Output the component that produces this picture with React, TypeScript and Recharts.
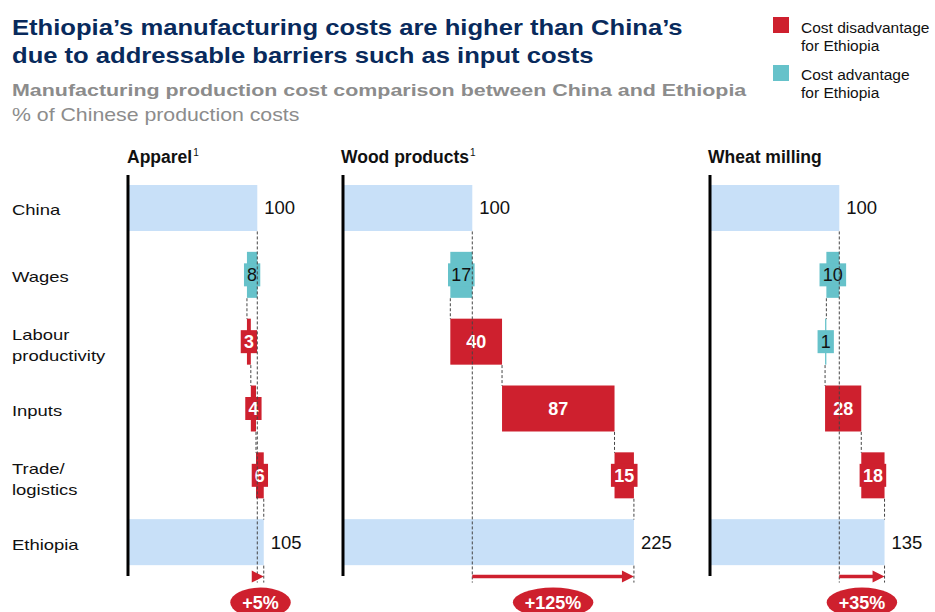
import { BarChart, Bar, XAxis, YAxis, ReferenceLine } from "recharts";

const categories = ["China", "Wages", "Labour\nproductivity", "Inputs", "Trade/\nlogistics", "Ethiopia"];
const panelTitles = ["Apparel", "Wood products", "Wheat milling"];
const panelNotes = ["1", "1", ""];
const chinaValues = [100, 100, 100];
const apparelSteps = [-8, 3, 4, 6];
const woodSteps = [-17, 40, 87, 15];
const wheatSteps = [-10, -1, 28, 18];
const ethiopiaValues = [105, 225, 135];
const legendLabels = ["Cost disadvantage\nfor Ethiopia", "Cost advantage\nfor Ethiopia"];

const RED = "#CE202E";
const CYAN = "#66C2CA";
const LIGHT = "#C8E0F8";
const NAVY = "#082A5C";
const GREY = "#8C8C8C";
const FONT = "'Liberation Sans', Arial, sans-serif";

const buildRows = (china: number, steps: number[], total: number) => {
  const rows: any[] = [{ name: categories[0], base: 0, len: china, kind: "total", value: china, after: china }];
  let run = china;
  steps.forEach((s, i) => {
    rows.push({
      name: categories[i + 1],
      base: s < 0 ? run + s : run,
      len: Math.abs(s),
      kind: s < 0 ? "down" : "up",
      value: Math.abs(s),
      after: run + s,
    });
    run += s;
  });
  rows.push({ name: categories[5], base: 0, len: total, kind: "total", value: total, after: total });
  return rows;
};

const panels = [
  { rows: buildRows(chinaValues[0], apparelSteps, ethiopiaValues[0]), left: 0, yWidth: 128, max: 150 },
  { rows: buildRows(chinaValues[1], woodSteps, ethiopiaValues[1]), left: 339, yWidth: 4, max: 260 },
  { rows: buildRows(chinaValues[2], wheatSteps, ethiopiaValues[2]), left: 706, yWidth: 4, max: 170 },
];
const PX_PER_UNIT = 1.293;

const BarShape = (p: any) => {
  const { x, y, width, height, payload } = p;
  const kind = payload.kind;
  const fill = kind === "total" ? LIGHT : kind === "up" ? RED : CYAN;
  const cx = x + width / 2;
  const cy = y + height / 2;
  const txt = String(payload.value);
  if (kind === "total") {
    return (
      <g>
        <rect x={x} y={y} width={width} height={height} fill={fill} />
        <text x={x + width + 7} y={cy + 6.5} fontSize={18.5} fill="#111" fontFamily={FONT}>
          {txt}
        </text>
      </g>
    );
  }
  const boxW = Math.max(width, txt.length * 10.3 + 6);
  return (
    <g>
      <rect x={x} y={y} width={width} height={height} fill={fill} />
      {boxW > width && <rect x={cx - boxW / 2} y={cy - 11.5} width={boxW} height={23} fill={fill} />}
      <text
        x={cx}
        y={cy + 6.5}
        textAnchor="middle"
        fontSize={18}
        fontFamily={FONT}
        fontWeight={kind === "up" ? "bold" : "normal"}
        fill={kind === "up" ? "#fff" : "#111"}
      >
        {txt}
      </text>
    </g>
  );
};

const CategoryTick = (p: any) => {
  const lines = String(p.payload.value).split("\n");
  const y0 = lines.length > 1 ? p.y - 2 : p.y + 7;
  return (
    <g>
      {lines.map((l, i) => (
        <text
          key={i}
          transform={`translate(12 ${y0 + i * 21}) scale(1.23 1)`}
          fontSize={15}
          fill="#111"
          fontFamily={FONT}
        >
          {l}
        </text>
      ))}
    </g>
  );
};

const dashed = (dy1: number, dy2: number) => (p: any) => (
  <line x1={p.x1} y1={p.y1 + dy1} x2={p.x2} y2={p.y2 + dy2} stroke="#444" strokeWidth={1} strokeDasharray="3 2" />
);

const arrowShape = (label: string) => (p: any) => {
  const y = p.y1 + 34;
  const x1 = p.x1;
  const x2 = p.x2;
  const mid = (x1 + x2) / 2;
  const tw = 10.5 + (label.length - 2) * 10 + 16;
  const rx = tw / 2 + 12;
  return (
    <g>
      {x2 - 10 > x1 && <line x1={x1} y1={y} x2={x2 - 10} y2={y} stroke={RED} strokeWidth={3.5} />}
      <polygon points={`${x2 - 12},${y - 6} ${x2},${y} ${x2 - 12},${y + 6}`} fill={RED} />
      <ellipse cx={mid} cy={y + 26} rx={rx} ry={15} fill={RED} />
      <text x={mid} y={y + 32} textAnchor="middle" fill="#fff" fontWeight="bold" fontSize={18} fontFamily={FONT}>
        {label}
      </text>
    </g>
  );
};

const Panel = ({ panel, first }: { panel: any; first: boolean }) => {
  const rows = panel.rows;
  const china = rows[0].value;
  const total = rows[rows.length - 1].value;
  const last = rows[rows.length - 1].name;
  const plotW = panel.max * PX_PER_UNIT;
  const connectors = rows.slice(1, rows.length - 1).map((r: any, i: number) => ({
    x: r.after,
    from: r.name,
    to: rows[i + 2].name,
  }));
  const pct = `+${Math.round(((total - china) / china) * 100)}%`;
  return (
    <div style={{ position: "absolute", left: panel.left, top: 150 }}>
      <BarChart
        width={panel.yWidth + plotW}
        height={466}
        data={rows}
        layout="vertical"
        margin={{ top: 25, right: 0, bottom: 40, left: 0 }}
      >
        <XAxis type="number" domain={[0, panel.max]} hide />
        <YAxis
          type="category"
          dataKey="name"
          width={panel.yWidth}
          interval={0}
          tickLine={false}
          axisLine={{ stroke: "#000", strokeWidth: 3 }}
          tick={first ? <CategoryTick /> : false}
        />
        <Bar dataKey="base" stackId="a" fill="transparent" barSize={46} isAnimationActive={false} />
        <Bar dataKey="len" stackId="a" barSize={46} shape={<BarShape />} isAnimationActive={false} />
        <ReferenceLine
          segment={[{ x: china, y: rows[0].name }, { x: china, y: last }]}
          shape={dashed(23, 40)}
        />
        {connectors
          .filter((c: any) => c.x !== china)
          .map((c: any, i: number) => (
            <ReferenceLine
              key={i}
              segment={[{ x: c.x, y: c.from }, { x: c.x, y: c.to }]}
              shape={dashed(23, -23)}
            />
          ))}
        <ReferenceLine segment={[{ x: total, y: last }, { x: total, y: last }]} shape={dashed(23, 40)} />
        <ReferenceLine segment={[{ x: china, y: last }, { x: total, y: last }]} shape={arrowShape(pct)} />
      </BarChart>
    </div>
  );
};

const headerLefts = [127, 341, 708];

export default function App() {
  return (
    <div
      style={{
        position: "absolute",
        left: 0,
        top: 0,
        width: 935,
        height: 612,
        overflow: "hidden",
        background: "#fff",
        fontFamily: FONT,
      }}
    >
      <div
        style={{
          position: "absolute",
          left: 12,
          top: 13.5,
          fontSize: 21.5,
          lineHeight: "28px",
          fontWeight: "bold",
          color: NAVY,
          transform: "scaleX(1.19)",
          transformOrigin: "0 0",
          whiteSpace: "nowrap",
        }}
      >
        Ethiopia’s manufacturing costs are higher than China’s
        <br />
        due to addressable barriers such as input costs
      </div>
      <div
        style={{
          position: "absolute",
          left: 12,
          top: 81,
          fontSize: 17,
          lineHeight: "20px",
          fontWeight: "bold",
          color: GREY,
          transform: "scaleX(1.26)",
          transformOrigin: "0 0",
          whiteSpace: "nowrap",
        }}
      >
        Manufacturing production cost comparison between China and Ethiopia
      </div>
      <div
        style={{
          position: "absolute",
          left: 12,
          top: 103.6,
          fontSize: 18.5,
          lineHeight: "22px",
          color: GREY,
          transform: "scaleX(1.15)",
          transformOrigin: "0 0",
          whiteSpace: "nowrap",
        }}
      >
        % of Chinese production costs
      </div>

      {legendLabels.map((l, i) => (
        <div key={i}>
          <div
            style={{
              position: "absolute",
              left: 773,
              top: 17 + i * 48,
              width: 16,
              height: 16,
              background: i === 0 ? RED : CYAN,
            }}
          />
          <div
            style={{
              position: "absolute",
              left: 801,
              top: 18.6 + i * 47,
              fontSize: 15.5,
              lineHeight: "18px",
              color: "#111",
              whiteSpace: "pre",
            }}
          >
            {l}
          </div>
        </div>
      ))}

      {panelTitles.map((t, i) => (
        <div
          key={t}
          style={{
            position: "absolute",
            left: headerLefts[i],
            top: 147,
            fontSize: 17.5,
            lineHeight: "20px",
            fontWeight: "bold",
            color: "#111",
            whiteSpace: "nowrap",
          }}
        >
          {t}
          {panelNotes[i] && (
            <span style={{ fontSize: 10, fontWeight: "normal", position: "relative", top: -7, marginLeft: 1 }}>
              {panelNotes[i]}
            </span>
          )}
        </div>
      ))}

      {panels.map((p, i) => (
        <Panel key={i} panel={p} first={i === 0} />
      ))}
    </div>
  );
}
